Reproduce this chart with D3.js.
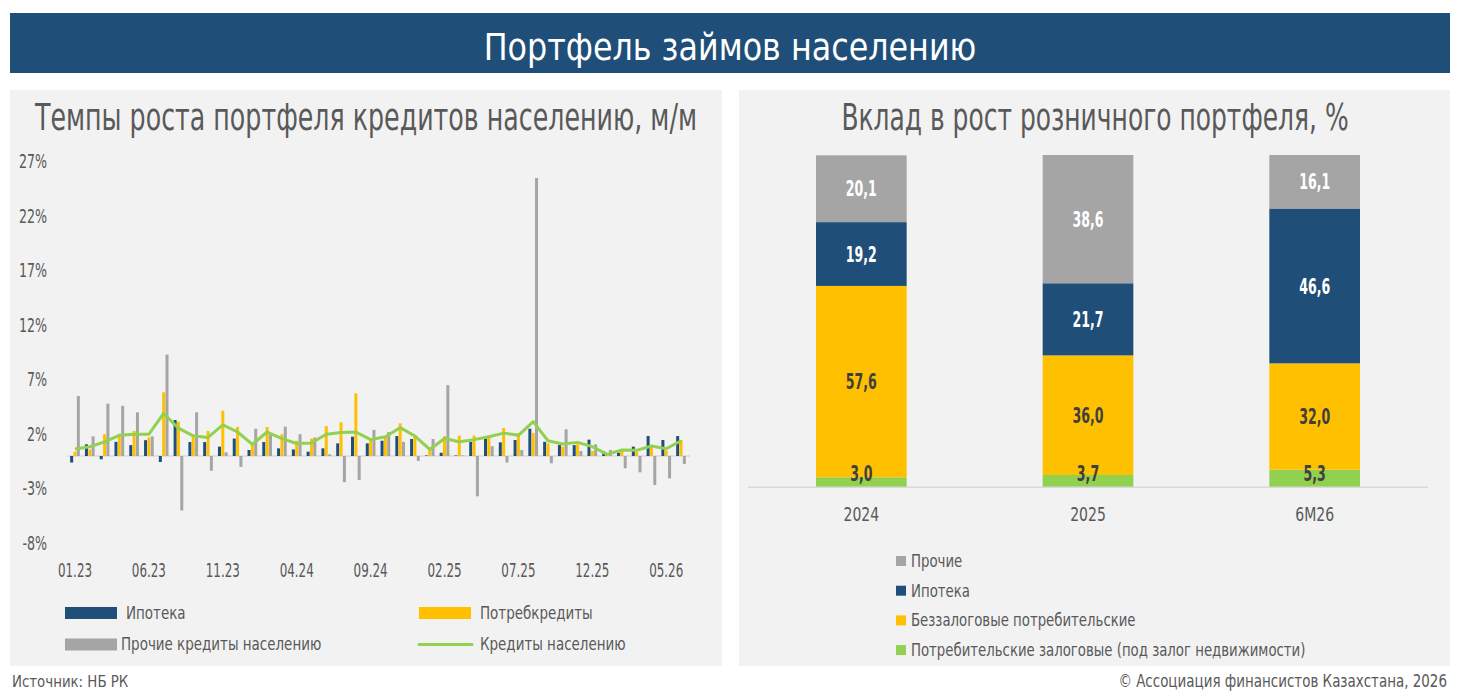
<!DOCTYPE html>
<html>
<head>
<meta charset="utf-8">
<script src="https://cdn.jsdelivr.net/npm/d3@7"></script>
<style>
  body { margin: 0; background: #ffffff; }
  svg text { font-family: "DejaVu Sans Condensed", "DejaVu Sans", sans-serif; }
</style>
</head>
<body>
<div id="chart"></div>
<script>
// monthly data, 01.23 - 06.26
var months = ["01.23","02.23","03.23","04.23","05.23","06.23","07.23","08.23","09.23","10.23","11.23","12.23",
              "01.24","02.24","03.24","04.24","05.24","06.24","07.24","08.24","09.24","10.24","11.24","12.24",
              "01.25","02.25","03.25","04.25","05.25","06.25","07.25","08.25","09.25","10.25","11.25","12.25",
              "01.26","02.26","03.26","04.26","05.26","06.26"];
var mortgage = [-0.6,1.07,-0.3,1.3,1.0,1.45,-0.55,3.3,1.28,1.28,0.86,1.6,
                0.55,1.28,0.7,0.6,0.4,0.7,1.16,1.77,1.16,1.4,1.83,1.56,
                0.05,0.3,0.05,1.3,1.6,1.25,1.47,2.5,1.3,1.0,1.0,1.5,
                0.4,0.3,0.86,1.83,1.47,1.83];
var consumer = [0.4,0.6,2.0,2.0,2.3,1.7,5.85,3.15,1.8,2.3,4.16,2.66,
                1.0,2.66,2.0,1.4,1.6,2.75,3.1,5.75,1.5,1.8,3.0,1.9,
                0.55,1.83,1.87,1.87,1.7,2.57,2.1,2.1,1.16,0.86,1.07,0.46,
                0.2,0.6,0.4,0.8,0.5,1.47];
var other = [5.5,1.8,4.8,4.6,4.0,1.8,9.3,-5.0,4.0,-1.35,0.34,-1.0,
             2.5,2.0,2.7,2.0,1.7,0.15,-2.4,-2.2,2.4,2.2,1.3,-0.45,
             1.56,6.5,0.05,-3.7,0.9,-0.6,0.55,25.5,-0.67,2.45,0.46,1.07,
             0.55,-1.13,-1.5,-2.66,-2.05,-0.73];
var total = [0.65,0.85,1.3,1.9,2.0,2.0,3.9,2.55,1.85,1.7,2.85,2.2,
             1.07,2.2,1.6,1.15,1.2,2.0,2.15,2.2,1.5,1.77,2.6,1.83,
             0.6,1.6,1.3,1.5,1.77,2.1,1.9,3.15,1.4,1.1,1.25,0.86,
             0.15,0.55,0.52,0.92,0.67,1.4];
var yTicks = [-8,-3,2,7,12,17,22,27];

// contribution to retail portfolio growth
var periods = ["2024","2025","6M26"];
var secured = [3.0,3.7,5.3];
var unsecured = [57.6,36.0,32.0];
var ipoteka = [19.2,21.7,46.6];
var prochie = [20.1,38.6,16.1];

var BLUE = "#1f4e79", YELLOW = "#ffc000", GRAY = "#a5a5a5", GREEN = "#92d050", TXT = "#595959";

// narrow the glyphs to look like the condensed font of the original
function squeeze(sel, k) {
  sel.each(function() {
    var x = +d3.select(this).attr("x") || 0;
    d3.select(this).attr("transform",
      "translate(" + x + ",0) scale(" + k + ",1) translate(" + (-x) + ",0)");
  });
}

var svg = d3.select("#chart").append("svg")
  .attr("width", 1460).attr("height", 693);

// header
svg.append("rect").attr("x", 10).attr("y", 13).attr("width", 1440).attr("height", 60).attr("fill", BLUE);
svg.append("text").attr("x", 730).attr("y", 60).attr("text-anchor", "middle")
  .attr("fill", "#fff").attr("font-size", 38).text("Портфель займов населению")
  .call(squeeze, 0.93);

// panels
svg.append("rect").attr("x", 10).attr("y", 90).attr("width", 712).attr("height", 576).attr("fill", "#f2f2f2");
svg.append("rect").attr("x", 739).attr("y", 90).attr("width", 711).attr("height", 576).attr("fill", "#f2f2f2");

svg.append("text").attr("x", 366).attr("y", 130).attr("text-anchor", "middle")
  .attr("fill", TXT).attr("font-size", 37).text("Темпы роста портфеля кредитов населению, м/м")
  .call(squeeze, 0.76);
svg.append("text").attr("x", 1095).attr("y", 130).attr("text-anchor", "middle")
  .attr("fill", TXT).attr("font-size", 37).text("Вклад в рост розничного портфеля, %")
  .call(squeeze, 0.75);

// footer
svg.append("text").attr("x", 12).attr("y", 687).attr("fill", TXT).attr("font-size", 16.5).text("Источник: НБ РК")
  .call(squeeze, 0.9);
svg.append("text").attr("x", 1447).attr("y", 687).attr("text-anchor", "end")
  .attr("fill", TXT).attr("font-size", 17).text("© Ассоциация финансистов Казахстана, 2026")
  .call(squeeze, 0.88);

// ---------- left chart ----------
var x0 = d3.scaleBand().domain(months).range([67.6, 688.4]).paddingInner(0.3).paddingOuter(0.15);
var keys = ["m", "c", "o"];
var x1 = d3.scaleBand().domain(keys).range([0, x0.bandwidth()]).padding(0.1);
var y = d3.scaleLinear().domain([-8, 27]).range([543.2, 161.7]);

var g = svg.append("g");

var axisL = d3.axisLeft(y).tickValues(yTicks).tickSize(0).tickPadding(0)
  .tickFormat(function(d) { return d + "%"; });
g.append("g").attr("transform", "translate(47,0)").call(axisL)
  .call(function(a) { a.select(".domain").remove(); })
  .selectAll("text").attr("fill", TXT).attr("font-size", 19.5).call(squeeze, 0.72);

// zero line
g.append("line").attr("x1", 67.6).attr("x2", 690).attr("y1", y(0)).attr("y2", y(0))
  .attr("stroke", "#d9d9d9").attr("stroke-width", 1.5);

var rows = months.map(function(m, i) {
  return {month: m, vals: [{k: "m", v: mortgage[i], c: BLUE}, {k: "c", v: consumer[i], c: YELLOW}, {k: "o", v: other[i], c: GRAY}]};
});

g.selectAll(".grp").data(rows).enter().append("g")
  .attr("transform", function(d) { return "translate(" + x0(d.month) + ",0)"; })
  .selectAll("rect").data(function(d) { return d.vals; }).enter().append("rect")
  .attr("x", function(d) { return x1(d.k); })
  .attr("width", x1.bandwidth())
  .attr("y", function(d) { return y(Math.max(0, d.v)); })
  .attr("height", function(d) { return Math.abs(y(d.v) - y(0)); })
  .attr("fill", function(d) { return d.c; });

var line = d3.line()
  .x(function(d, i) { return x0(months[i]) + x0.bandwidth() / 2; })
  .y(function(d) { return y(d); });
g.append("path").datum(total).attr("d", line)
  .attr("fill", "none").attr("stroke", GREEN).attr("stroke-width", 3).attr("stroke-linejoin", "round");

var axisB = d3.axisBottom(x0).tickSize(0).tickPadding(0)
  .tickValues(months.filter(function(d, i) { return i % 5 === 0; }));
g.append("g").attr("transform", "translate(0,563)").call(axisB)
  .call(function(a) { a.select(".domain").remove(); })
  .selectAll("text").attr("fill", TXT).attr("font-size", 19.5).attr("dy", "0.71em").call(squeeze, 0.68);

// legend left
var legL = [
  {name: "Ипотека", c: BLUE, x: 65, y: 613, tx: 126, t: "rect"},
  {name: "Потребкредиты", c: YELLOW, x: 419, y: 613, tx: 480, t: "rect"},
  {name: "Прочие кредиты населению", c: GRAY, x: 65, y: 644.5, tx: 121, t: "rect"},
  {name: "Кредиты населению", c: GREEN, x: 419, y: 644.5, tx: 480, t: "line"}
];
legL.forEach(function(d) {
  if (d.t === "rect") {
    svg.append("rect").attr("x", d.x).attr("y", d.y - 6).attr("width", 52).attr("height", 12).attr("fill", d.c);
  } else {
    svg.append("line").attr("x1", d.x).attr("x2", d.x + 53).attr("y1", d.y).attr("y2", d.y)
      .attr("stroke", d.c).attr("stroke-width", 3).attr("stroke-linecap", "round");
  }
  svg.append("text").attr("x", d.tx).attr("y", d.y).attr("dy", "0.35em")
    .attr("fill", TXT).attr("font-size", 17).text(d.name).call(squeeze, 0.88);
});

// ---------- right chart ----------
var xr = d3.scaleBand().domain(periods).range([748, 1428]).paddingInner(0.6).paddingOuter(0.3);
var yr = d3.scaleLinear().domain([0, 100]).range([487.3, 155]);

var series = [
  {name: "Потребительские залоговые (под залог недвижимости)", vals: secured, c: GREEN, tc: "#3f3f3f"},
  {name: "Беззалоговые потребительские", vals: unsecured, c: YELLOW, tc: "#3f3f3f"},
  {name: "Ипотека", vals: ipoteka, c: BLUE, tc: "#ffffff"},
  {name: "Прочие", vals: prochie, c: GRAY, tc: "#ffffff"}
];
var table = periods.map(function(p, i) {
  var row = {period: p};
  series.forEach(function(s) { row[s.name] = s.vals[i]; });
  return row;
});
var stack = d3.stack().keys(series.map(function(s) { return s.name; }))(table);

var gr = svg.append("g");
stack.forEach(function(layer, li) {
  var s = series[li];
  gr.selectAll(".l" + li).data(layer).enter().append("rect")
    .attr("x", function(d) { return xr(d.data.period); })
    .attr("width", xr.bandwidth())
    .attr("y", function(d) { return yr(d[1]); })
    .attr("height", function(d) { return yr(d[0]) - yr(d[1]); })
    .attr("fill", s.c);
});
gr.append("line").attr("x1", 748).attr("x2", 1428).attr("y1", yr(0)).attr("y2", yr(0))
  .attr("stroke", "#d9d9d9").attr("stroke-width", 1.5);
stack.forEach(function(layer, li) {
  var s = series[li];
  gr.selectAll(".t" + li).data(layer).enter().append("text")
    .attr("x", function(d) { return xr(d.data.period) + xr.bandwidth() / 2; })
    .attr("y", function(d) { return Math.min(yr((d[0] + d[1]) / 2), yr(0) - 14); })
    .attr("dy", "0.36em").attr("text-anchor", "middle")
    .attr("fill", s.tc).attr("font-size", 21.5).attr("font-weight", "bold")
    .text(function(d) { return d3.format(".1f")(d[1] - d[0]).replace(".", ","); })
    .call(squeeze, 0.65);
});

var axisR = d3.axisBottom(xr).tickSize(0).tickPadding(0);
gr.append("g").attr("transform", "translate(0,507)").call(axisR)
  .call(function(a) { a.select(".domain").remove(); })
  .selectAll("text").attr("fill", TXT).attr("font-size", 19.5).attr("dy", "0.71em").call(squeeze, 0.8);

// legend right (top to bottom: reversed stack order)
series.slice().reverse().forEach(function(s, i) {
  var ly = 561 + i * 29.7;
  svg.append("rect").attr("x", 896).attr("y", ly - 5).attr("width", 10).attr("height", 10).attr("fill", s.c);
  svg.append("text").attr("x", 911).attr("y", ly).attr("dy", "0.35em")
    .attr("fill", TXT).attr("font-size", 17).text(s.name).call(squeeze, 0.87);
});
</script>
</body>
</html>
